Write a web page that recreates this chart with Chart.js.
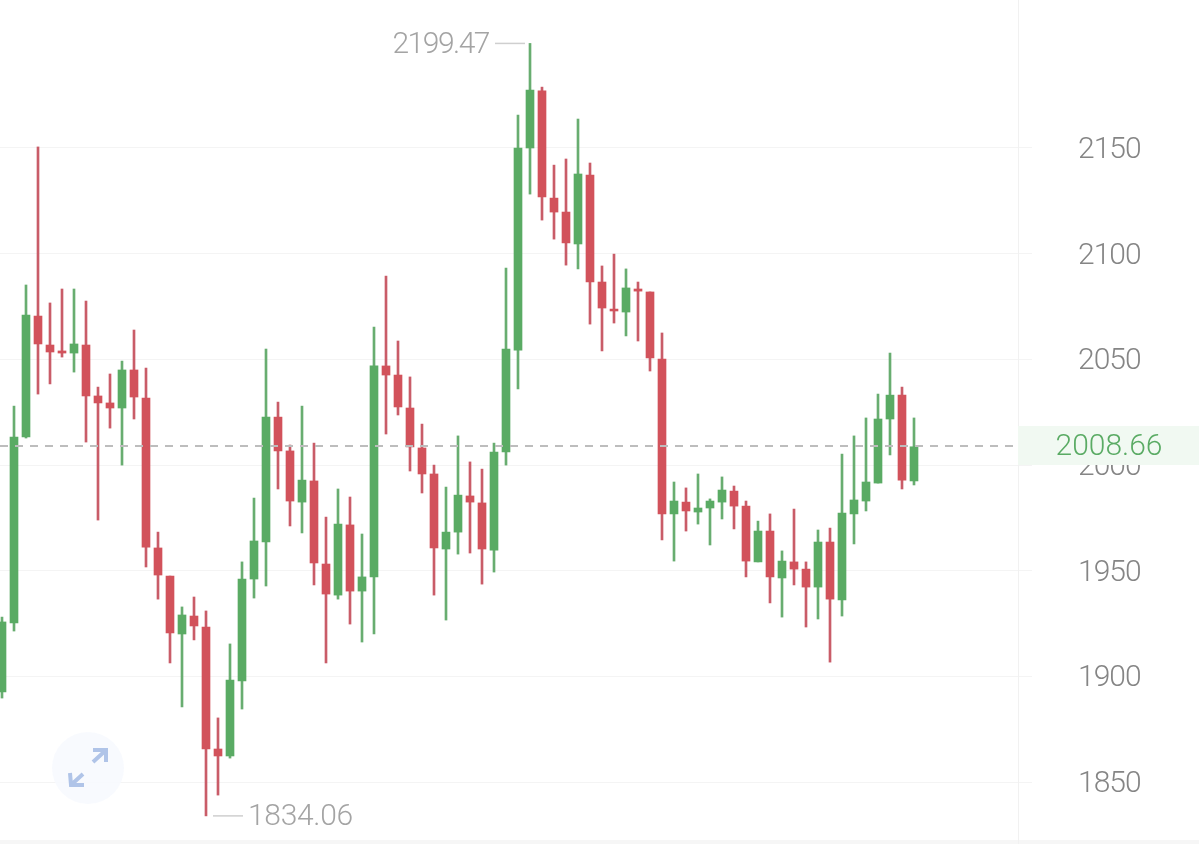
<!DOCTYPE html>
<html>
<head>
<meta charset="utf-8">
<style>html,body{margin:0;padding:0;background:#fff;overflow:hidden}canvas{display:block}</style>
<script src="https://cdn.jsdelivr.net/npm/chart.js@4/dist/chart.umd.min.js"></script>
</head>
<body>
<canvas id="c" width="1199" height="844"></canvas>
<script>
const opens = [1892.7,1925.3,2013.3,2070.5,2056.8,2054.0,2053.0,2056.8,2032.7,2029.4,2027.0,2045.0,2031.7,1960.8,1947.5,1920.1,1928.6,1923.4,1865.7,1862.4,1897.9,1946.1,1963.6,2022.7,2006.7,1982.5,1992.5,1953.2,1938.5,1971.7,1940.4,1947.1,2046.9,2042.6,2027.0,2008.1,1995.8,1960.3,1968.3,1985.4,1982.1,1959.8,2006.2,2054.4,2150.0,2177.0,2126.3,2119.7,2104.6,2137.2,2086.6,2073.8,2072.4,2083.3,2081.9,2050.2,1976.9,1982.5,1977.8,1979.7,1982.5,1987.7,1980.6,1954.2,1968.8,1946.6,1954.2,1950.8,1942.3,1963.6,1936.2,1976.9,1983.0,1991.5,2021.8,2033.1,1992.5];
const closes = [1925.8,2013.3,2071.0,2057.3,2053.5,2053.0,2057.3,2032.7,2029.4,2027.0,2045.0,2032.2,1961.2,1948.0,1920.6,1929.1,1923.9,1865.7,1862.4,1898.3,1946.1,1964.1,2022.7,2006.7,1983.0,1992.9,1953.7,1939.0,1972.1,1940.4,1947.1,2046.9,2042.6,2027.5,2008.6,1995.8,1960.8,1968.3,1985.8,1982.5,1960.3,2006.2,2054.9,2150.0,2177.4,2126.8,2119.7,2105.1,2137.7,2086.6,2074.3,2072.9,2083.8,2082.3,2050.7,1976.9,1983.0,1978.3,1979.7,1983.0,1988.2,1980.6,1954.6,1968.8,1947.1,1954.6,1950.8,1942.3,1963.6,1936.6,1977.3,1983.5,1992.0,2021.8,2033.1,1992.9,2008.66];
const highs = [1928.1,2027.9,2085.2,2150.5,2076.7,2083.3,2083.3,2077.6,2036.9,2043.1,2049.2,2063.9,2045.9,1968.3,1947.5,1932.9,1937.6,1931.0,1880.4,1915.4,1954.2,1984.4,2054.9,2029.8,2009.5,2027.9,2010.4,1975.4,1988.7,1984.9,1967.4,2065.3,2089.4,2058.7,2041.7,2019.4,2000.0,1989.6,2013.8,2001.5,1998.1,2010.4,2093.2,2165.6,2199.47,2178.8,2141.9,2144.8,2163.7,2142.9,2094.2,2099.8,2092.8,2086.6,2081.9,2062.5,1992.0,1989.2,1995.8,1984.0,1994.4,1990.1,1983.0,1973.5,1976.9,1959.4,1979.2,1954.2,1969.3,1970.2,2005.2,2013.8,2022.3,2033.6,2053.0,2036.9,2022.3];
const lows = [1889.8,1921.5,2012.8,2033.6,2038.4,2051.1,2044.0,2010.9,1974.0,2017.5,2000.0,2021.8,1951.8,1936.6,1906.4,1885.6,1917.3,1834.06,1843.9,1861.4,1884.6,1937.1,1942.8,1988.7,1971.2,1967.9,1943.3,1906.4,1936.6,1924.8,1916.3,1920.1,2014.7,2023.7,1997.2,1986.8,1938.5,1926.7,1957.9,1958.4,1943.7,1949.4,2000.0,2036.0,2128.2,2115.9,2106.9,2094.6,2092.8,2066.7,2054.0,2067.2,2061.1,2058.7,2044.5,1964.6,1954.6,1968.8,1972.1,1962.2,1974.5,1969.8,1947.1,1954.2,1934.8,1928.1,1943.3,1923.4,1927.2,1906.8,1928.6,1962.7,1978.3,1991.5,2004.8,1988.7,1990.6];
const tickValues = [1850,1900,1950,2000,2050,2100,2150];
const lastPrice = 2008.66;
const highestValue = 2199.47, highestIndex = 44;
const lowestValue = 1834.06, lowestIndex = 17;

const GREEN = '#5aab64', RED = '#d2525b';
const GREEN_WICK = '#68ad70', RED_WICK = '#c95c68';
const barColor = (up, a, b) => up.map(u => u ? a : b);
const isUp = closes.map((c, i) => c >= opens[i]);

const overlay = {
  id: 'overlay',
  beforeDraw(chart) { chart.ctx.letterSpacing = '-1px'; },
  afterDatasetsDraw(chart) {
    const { ctx, scales: { x, y } } = chart;
    const font = '300 30px Roboto';
    ctx.save();
    // bottom band
    ctx.fillStyle = '#f6f6f6';
    ctx.fillRect(0, 840, 1199, 4);
    // vertical divider
    ctx.fillStyle = '#f1f1f1';
    ctx.fillRect(1018, 0, 1, 844);

    // current price line
    const py = Math.round(y.getPixelForValue(lastPrice)) - 1;
    ctx.strokeStyle = '#bdbdbd';
    ctx.lineWidth = 2;
    ctx.setLineDash([8, 7]);
    ctx.beginPath(); ctx.moveTo(0, py); ctx.lineTo(1016, py); ctx.stroke();
    ctx.setLineDash([]);

    // price tag (covers the top of the 2000 tick)
    ctx.fillStyle = '#f1f9f2';
    ctx.fillRect(1018, py - 20, 181, 39);
    ctx.fillStyle = '#5aab64';
    ctx.font = font;
    ctx.textAlign = 'center';
    ctx.textBaseline = 'middle';
    ctx.letterSpacing = '0px';
    ctx.fillText(lastPrice.toFixed(2), 1109, py + 1);

    // high/low labels
    ctx.strokeStyle = '#cfcfcf';
    ctx.lineWidth = 1.5;
    ctx.fillStyle = '#a4a4a4';
    const hy = y.getPixelForValue(highestValue), hx = x.getPixelForValue(highestIndex);
    ctx.beginPath(); ctx.moveTo(hx - 35, hy); ctx.lineTo(hx - 5, hy); ctx.stroke();
    ctx.textAlign = 'right';
    ctx.letterSpacing = '-1.5px';
    ctx.fillText(highestValue.toFixed(2), hx - 41, hy + 2);
    const ly = y.getPixelForValue(lowestValue), lx = x.getPixelForValue(lowestIndex);
    ctx.beginPath(); ctx.moveTo(lx + 7, ly); ctx.lineTo(lx + 37, ly); ctx.stroke();
    ctx.textAlign = 'left';
    ctx.letterSpacing = '-0.3px';
    ctx.fillText(lowestValue.toFixed(2), lx + 42, ly + 2);
    ctx.letterSpacing = '0px';

    // expand button
    ctx.fillStyle = 'rgba(247,249,254,0.85)';
    ctx.beginPath(); ctx.arc(88, 768, 36, 0, Math.PI * 2); ctx.fill();
    ctx.strokeStyle = '#b0c4e8';
    ctx.lineWidth = 4;
    ctx.lineCap = 'butt';
    ctx.lineJoin = 'miter';
    ctx.beginPath();
    ctx.moveTo(93, 762); ctx.lineTo(105, 751);
    ctx.moveTo(93, 750); ctx.lineTo(106, 750); ctx.lineTo(106, 762);
    ctx.moveTo(83, 774); ctx.lineTo(71, 785);
    ctx.moveTo(70, 773); ctx.lineTo(71, 785); ctx.lineTo(84, 785);
    ctx.stroke();
    ctx.restore();
  }
};

new Chart(document.getElementById('c'), {
  type: 'bar',
  data: {
    datasets: [
      {
        label: 'body',
        data: opens.map((o, i) => ({ x: i, y: [o, closes[i]] })),
        backgroundColor: barColor(isUp, GREEN, RED),
        barThickness: 8,
        grouped: false,
        borderWidth: 0
      },
      {
        label: 'wick',
        data: highs.map((h, i) => ({ x: i, y: [lows[i], h] })),
        backgroundColor: barColor(isUp, GREEN_WICK, RED_WICK),
        barThickness: 2,
        grouped: false,
        borderWidth: 0
      }
    ]
  },
  plugins: [overlay],
  options: {
    responsive: false,
    animation: false,
    layout: { padding: 0 },
    plugins: { legend: { display: false }, tooltip: { enabled: false } },
    scales: {
      x: { type: 'linear', display: false, offset: false, grid: { offset: false }, min: -2 / 12, max: 1030 / 12 },
      y: {
        position: 'right',
        offset: false,
        beginAtZero: false,
        min: 1820.76,
        max: 2220.01,
        afterBuildTicks(s) { s.ticks = tickValues.map(v => ({ value: v })); },
        afterFit(s) { s.width = 167; s.paddingTop = 0; s.paddingBottom = 0; },
        border: { display: false },
        grid: { color: '#f4f4f4', lineWidth: 1, drawTicks: false, offset: false },
        ticks: {
          autoSkip: false,
          padding: 44,
          labelOffset: 2.5,
          crossAlign: 'center',
          color: '#858585',
          font: { family: 'Roboto', size: 30, weight: '300' },
          callback: v => String(v)
        }
      }
    }
  }
});
</script>
</body>
</html>
